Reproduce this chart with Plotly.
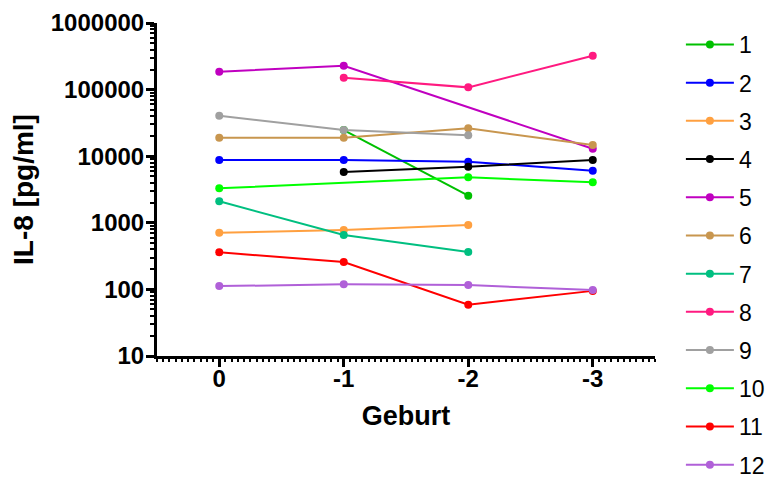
import plotly.graph_objects as go

# Time points relative to birth (Geburt)
timepoints = [0, -1, -2, -3]

# IL-8 concentrations [pg/ml] per subject; None = no sample
subjects = ["1", "2", "3", "4", "5", "6", "7", "8", "9", "10", "11", "12"]
il8_1 = [None, 24700, 2550, None]
il8_2 = [8770, 8770, 8270, 6060]
il8_3 = [710, 780, 930, None]
il8_4 = [None, 5790, 6960, 8770]
il8_5 = [186000, 228000, None, 12970]
il8_6 = [18970, 18970, 26200, 14700]
il8_7 = [2100, 656, 365, None]
il8_8 = [None, 151000, 108000, 323000]
il8_9 = [40600, 24700, 20600, None]
il8_10 = [3300, None, 4820, 4060]
il8_11 = [360, 258, 59, 95]
il8_12 = [112, 119, 116, 98]

series = [il8_1, il8_2, il8_3, il8_4, il8_5, il8_6,
          il8_7, il8_8, il8_9, il8_10, il8_11, il8_12]

colors = ["#00c000", "#0000ff", "#ffa040", "#000000", "#c000c0", "#c8964f",
          "#00bf80", "#ff1a80", "#a0a0a0", "#00ff00", "#ff0000", "#b060d8"]

FONT = "Liberation Sans, Arial, sans-serif"

fig = go.Figure()
for name, vals, col in zip(subjects, series, colors):
    fig.add_trace(go.Scatter(
        x=timepoints, y=vals, name=name, mode="lines+markers",
        connectgaps=True, legendgroup=name,
        line=dict(color=col, width=2),
        marker=dict(color=col, size=8),
    ))

fig.update_layout(
    width=778, height=478,
    margin=dict(l=157, r=123, t=23, b=122, autoexpand=False),
    paper_bgcolor="white", plot_bgcolor="white",
    font=dict(family=FONT, color="black"),
    showlegend=True,
    legend=dict(
        x=1.052, xanchor="left", y=1.0, yanchor="top",
        font=dict(family=FONT, size=23, color="black"),
        tracegroupgap=5.3, itemwidth=48, maxheight=478,
        bgcolor="rgba(0,0,0,0)",
    ),
    xaxis=dict(
        range=[0.5, -3.5], tickmode="array", tickvals=timepoints,
        ticktext=[str(t) for t in timepoints],
        showline=True, linecolor="black", linewidth=3,
        ticks="outside", ticklen=8, tickwidth=3, tickcolor="black",
        ticklabelstandoff=-9,
        showgrid=False, zeroline=False,
        tickfont=dict(family=FONT, size=24, color="black", weight="bold"),
        minor=dict(ticks="outside", ticklen=3, tickwidth=2, tickcolor="black",
                   dtick=0.05, tick0=0, showgrid=False),
        title=dict(text="Geburt", standoff=16,
                   font=dict(family=FONT, size=27, color="black", weight="bold")),
    ),
    yaxis=dict(
        type="log", range=[1, 6],
        tickvals=[10, 100, 1000, 10000, 100000, 1000000],
        ticktext=["10", "100", "1000", "10000", "100000", "1000000"],
        showline=True, linecolor="black", linewidth=3,
        ticks="outside", ticklen=8, tickwidth=3, tickcolor="black",
        ticklabelstandoff=-3,
        showgrid=False, zeroline=False,
        tickfont=dict(family=FONT, size=24, color="black", weight="bold"),
        minor=dict(ticks="outside", ticklen=4, tickwidth=2, tickcolor="black",
                   dtick="D1", showgrid=False),
        title=dict(text="IL-8 [pg/ml]", standoff=9,
                   font=dict(family=FONT, size=28, color="black", weight="bold")),
    ),
)

fig.write_html("out.html")
